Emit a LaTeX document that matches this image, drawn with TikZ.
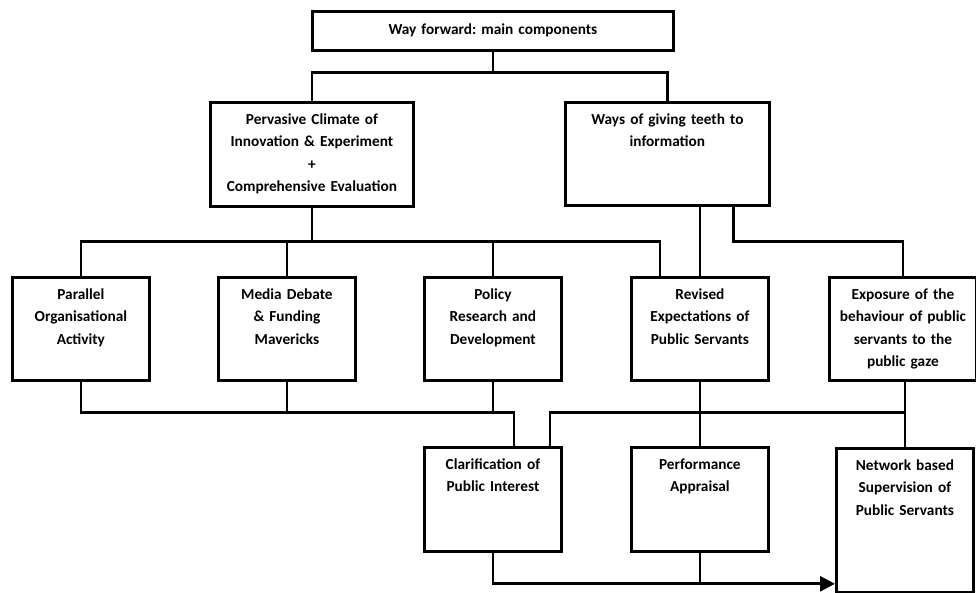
\documentclass[tikz,border=0pt]{standalone}
\usepackage{fontspec}
\setmainfont{Carlito}
\usetikzlibrary{arrows.meta}
\frenchspacing

\begin{document}
\begin{tikzpicture}[x=1pt, y=-1pt,
    box/.style = {draw, line width=2.8pt, anchor=north west,
      align=center, inner sep=0pt, text height=22pt,
      font=\bfseries\fontsize{15.3}{22.5}\selectfont},
    link/.style = {draw, line width=2.8pt},
    arrowlink/.style = {link, -{Triangle[length=15pt,width=15pt]}}
  ]
  \useasboundingbox (0,0) rectangle (976,592);

  % top level
  \node[box, text width=361pt, text height=23pt, text depth=16pt] (wayFwd) at (311,10)
    {Way forward: main components};

  % second level
  \node[box, text width=203pt, text depth=82pt] (climate) at (209,101)
    {Pervasive Climate of\\Innovation \& Experiment\\+\\Comprehensive Evaluation};
  \node[box, text width=204pt, text depth=81pt] (teeth) at (564,101)
    {Ways of giving teeth to\\information};

  % third level
  \node[box, text width=137pt, text depth=81pt] (parallel) at (11,276)
    {Parallel\\Organisational\\Activity};
  \node[box, text width=137pt, text depth=81pt] (media) at (217,276)
    {Media Debate\\\& Funding\\Mavericks};
  \node[box, text width=137pt, text depth=81pt] (policy) at (423,276)
    {Policy\\Research and\\Development};
  \node[box, text width=137pt, text depth=81pt] (revised) at (630,276)
    {Revised\\Expectations of\\Public Servants};
  \node[box, text width=147pt, text depth=81pt] (exposure) at (828,276)
    {Exposure of the\\behaviour of public\\servants to the\\public gaze};

  % fourth level
  \node[box, text width=137pt, text depth=82pt] (clarify) at (423,446)
    {Clarification of\\Public Interest};
  \node[box, text width=137pt, text depth=82pt] (appraisal) at (630,446)
    {Performance\\Appraisal};
  \node[box, text width=137pt, text depth=122pt] (network) at (835,447)
    {Network based\\Supervision of\\Public Servants};

  % connectors
  \draw[link] (wayFwd.south) -- ++(0,21) coordinate (busTop);
  \draw[link] (climate.north) |- (busTop) -| (teeth.north);

  \draw[link] (climate.south) -- ++(0,34) coordinate (busMid);
  \coordinate (revisedIn) at ([xshift=-40pt]revised.north);
  \draw[link] (parallel.north) |- (revisedIn |- busMid) -- (revisedIn);
  \draw[link] (media.north) -- (media.north |- busMid);
  \draw[link] (policy.north) -- (policy.north |- busMid);

  \draw[link] (teeth.south -| revised.north) -- (revised.north);
  \draw[link] ([xshift=66pt]teeth.south) -- ++(0,35) -| (exposure.north);

  \draw[link] (parallel.south) -- ++(0,31) coordinate (busLow) -| ([xshift=21pt]clarify.north);
  \draw[link] (media.south) -- (media.south |- busLow);
  \draw[link] (policy.south) -- (policy.south |- busLow);
  \draw[link] ([xshift=57pt]clarify.north) |- (network.north |- busLow);
  \draw[link] (revised.south) -- (appraisal.north);
  \draw[link] (network.north |- exposure.south) -- (network.north);

  \coordinate (busEnd) at ([yshift=-31pt]clarify.south);
  \draw[arrowlink] (clarify.south) |- (busEnd -| network.west);
  \draw[link] (appraisal.south) -- (appraisal.south |- busEnd);
\end{tikzpicture}
\end{document}
